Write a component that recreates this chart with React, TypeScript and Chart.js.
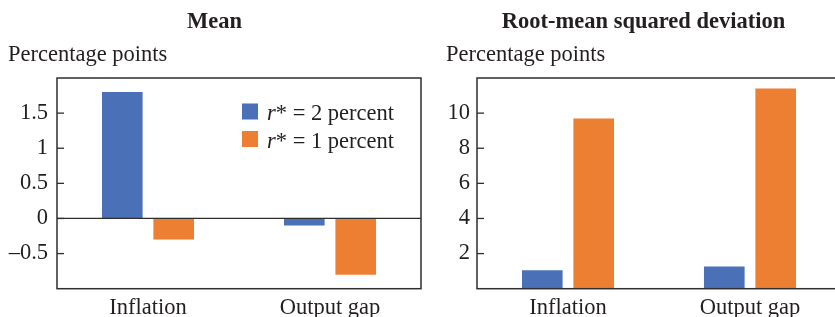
import React, { useEffect, useRef } from "react";
import { Chart, registerables } from "chart.js";

Chart.register(...registerables);

// ---- data ----
const categories = ["Inflation", "Output gap"];
const seriesLabels = ["r* = 2 percent", "r* = 1 percent"];
const seriesColors = ["#4a70b8", "#ed7f33"];

const meanRStar2 = [1.8, -0.1];
const meanRStar1 = [-0.3, -0.8];
const meanTicks = [-0.5, 0, 0.5, 1, 1.5];

const rmsdRStar2 = [1.05, 1.27];
const rmsdRStar1 = [9.7, 11.4];
const rmsdTicks = [2, 4, 6, 8, 10];

const FONT = "'Liberation Serif', 'Times New Roman', serif";
const FS = 22.5;
const TEXT = "#231f20";
const LINE = "#2e2e2e";

const fmt = (v: number) => (v < 0 ? "\u2013" + String(Math.abs(v)) : String(v));

const framePlugin = {
  id: "frame",
  afterDatasetsDraw(chart: any) {
    const { ctx, chartArea: a, scales } = chart;
    const y = scales.y;
    ctx.save();
    ctx.strokeStyle = LINE;
    ctx.lineWidth = 1.5;
    ctx.strokeRect(a.left, a.top, a.right - a.left, a.bottom - a.top);
    if (y.min < 0 && y.max > 0) {
      const zy = y.getPixelForValue(0);
      ctx.lineWidth = 1.3;
      ctx.beginPath();
      ctx.moveTo(a.left, zy);
      ctx.lineTo(a.right, zy);
      ctx.stroke();
    }
    ctx.lineWidth = 1.3;
    y.ticks.forEach((t: any) => {
      const py = y.getPixelForValue(t.value);
      ctx.beginPath();
      ctx.moveTo(a.left, py);
      ctx.lineTo(a.left + 7, py);
      ctx.stroke();
    });
    ctx.restore();
  },
};

const legendPlugin = {
  id: "customLegend",
  afterDraw(chart: any) {
    const opts = chart.options.plugins.customLegend;
    if (!opts || !opts.show) return;
    const { ctx, chartArea: a } = chart;
    ctx.save();
    chart.data.datasets.forEach((ds: any, i: number) => {
      const x = a.left + 185;
      const y = a.top + 25.5 + i * 27.5;
      ctx.fillStyle = ds.backgroundColor;
      ctx.fillRect(x, y, 16, 16);
      const label: string = ds.label;
      const first = label.slice(0, 1);
      const rest = label.slice(1);
      ctx.fillStyle = TEXT;
      ctx.textBaseline = "alphabetic";
      ctx.textAlign = "left";
      const by = y + 16.5;
      ctx.font = `italic ${FS}px ${FONT}`;
      ctx.fillText(first, x + 25, by);
      const w = ctx.measureText(first).width;
      ctx.font = `${FS}px ${FONT}`;
      ctx.fillText(rest, x + 25 + w, by);
    });
    ctx.restore();
  },
};

function makeConfig(
  title: string,
  a: number[],
  b: number[],
  min: number,
  max: number,
  ticks: number[],
  axisWidth: number,
  tickPad: number,
  showLegend: boolean
): any {
  return {
    type: "bar",
    data: {
      labels: categories,
      datasets: [
        { label: seriesLabels[0], data: a, backgroundColor: seriesColors[0], borderWidth: 0 },
        { label: seriesLabels[1], data: b, backgroundColor: seriesColors[1], borderWidth: 0 },
      ],
    },
    plugins: [framePlugin, legendPlugin],
    options: {
      responsive: false,
      animation: false,
      devicePixelRatio: 1,
      layout: { padding: { left: 8, right: 5, top: 0, bottom: 0 } },
      datasets: { bar: { categoryPercentage: 0.565, barPercentage: 0.79 } },
      plugins: {
        legend: { display: false },
        tooltip: { enabled: false },
        customLegend: { show: showLegend },
        title: {
          display: true,
          text: title,
          color: TEXT,
          font: { family: FONT, size: FS, weight: "bold" },
          padding: { top: 9, bottom: 0 },
        },
        subtitle: {
          display: true,
          text: "Percentage points",
          align: "start",
          color: TEXT,
          font: { family: FONT, size: FS },
          padding: { top: 6, bottom: 9 },
        },
      },
      scales: {
        x: {
          grid: { display: false, drawTicks: false },
          border: { display: false },
          ticks: { color: TEXT, font: { family: FONT, size: FS }, padding: 6 },
          afterFit: (s: any) => {
            s.height = 28.3;
          },
        },
        y: {
          min,
          max,
          grid: { display: false, drawTicks: false },
          border: { display: false },
          afterBuildTicks: (s: any) => {
            s.ticks = ticks.map((v) => ({ value: v }));
          },
          afterFit: (s: any) => {
            s.width = axisWidth;
          },
          ticks: {
            color: TEXT,
            font: { family: FONT, size: FS },
            padding: tickPad,
            callback: (v: any) => fmt(Number(v)),
          },
        },
      },
    },
  };
}

export default function App() {
  const leftRef = useRef<HTMLCanvasElement>(null);
  const rightRef = useRef<HTMLCanvasElement>(null);

  useEffect(() => {
    const c1 = new Chart(
      leftRef.current as HTMLCanvasElement,
      makeConfig("Mean", meanRStar2, meanRStar1, -1, 2, meanTicks, 49, 9, true)
    );
    const c2 = new Chart(
      rightRef.current as HTMLCanvasElement,
      makeConfig("Root-mean squared deviation", rmsdRStar2, rmsdRStar1, 0, 12, rmsdTicks, 31, 7, false)
    );
    return () => {
      c1.destroy();
      c2.destroy();
    };
  }, []);

  return (
    <div
      style={{
        position: "fixed",
        left: 0,
        top: 0,
        width: 835,
        height: 317,
        overflow: "hidden",
        background: "#fff",
      }}
    >
      <canvas ref={leftRef} width={426} height={317} style={{ position: "absolute", left: 0, top: 0 }} />
      <canvas ref={rightRef} width={408} height={317} style={{ position: "absolute", left: 438, top: 0 }} />
    </div>
  );
}
